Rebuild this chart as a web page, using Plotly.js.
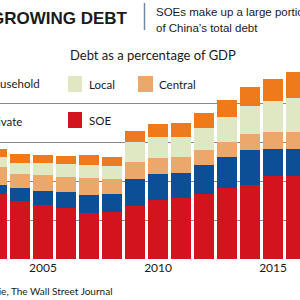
<!DOCTYPE html>
<html>
<head>
<meta charset="utf-8">
<script src="https://cdn.plot.ly/plotly-3.0.1.min.js"></script>
<style>
  html, body { margin: 0; padding: 0; background: #fff; }
  #chart { width: 300px; height: 300px; }
</style>
</head>
<body>
<div id="chart"></div>
<script>
// China debt by borrower, % of GDP
const years = [2003, 2004, 2005, 2006, 2007, 2008, 2009, 2010, 2011, 2012, 2013, 2014, 2015, 2016];
const soe       = [83, 74, 69, 66, 58.5, 60, 68, 75.5, 78, 83.5, 91, 95, 106, 106];
const privateCo = [12, 16.5, 18, 20.5, 24, 23.5, 34.5, 33.5, 32.5, 37, 39.5, 45, 35, 35];
const central   = [23, 18.5, 20.5, 19, 21, 19, 21.5, 20.5, 20, 19, 20, 20.5, 21.5, 21.5];
const local     = [12.5, 14, 15, 16, 17, 17, 25.5, 26.5, 25.5, 28, 32, 36, 40.5, 43.5];
const household= [10.5, 11.5, 11, 10.5, 13, 11.5, 15, 17, 18, 20, 21.5, 24, 28, 34];

const tickYears = [2005, 2010, 2015];
const yTicks = [0, 50, 100, 150, 200, 250];

const colors = {
  soe: '#d3141e',
  privateCo: '#0d4f96',
  central: '#eba86a',
  local: '#dfe8c2',
  household: '#ee7a1b'
};

const series = [
  { name: 'SOE', y: soe, color: colors.soe },
  { name: 'Private', y: privateCo, color: colors.privateCo },
  { name: 'Central', y: central, color: colors.central },
  { name: 'Local', y: local, color: colors.local },
  { name: 'Household', y: household, color: colors.household }
];

const traces = series.map(s => ({
  type: 'bar',
  name: s.name,
  x: years,
  y: s.y,
  marker: { color: s.color, line: { width: 0 } },
  hoverinfo: 'skip'
}));

// page geometry helpers (plot spans the full width, top 64px to 259px)
const W = 300, TOP = 64, BOT = 259;
const px = v => v / W;
const py = v => (BOT - v) / (BOT - TOP);

const textFont = 'Lato, "Open Sans", sans-serif';
const headFont = '"Liberation Sans", Arial, sans-serif';
const ink = '#1a1a1a';
const note = (text, x, y, xanchor, font) => ({
  text, x: px(x), y: py(y), xref: 'paper', yref: 'paper',
  xanchor, yanchor: 'middle', showarrow: false, font
});

const annotations = [
  note('<b>GROWING DEBT</b>', 130, 18.5, 'right', { family: headFont, size: 17, color: ink }),
  note('SOEs make up a large portion', 154, 12, 'left', { family: headFont, size: 11.5, color: ink }),
  note('of China\u2019s total debt', 154, 28, 'left', { family: headFont, size: 11.5, color: ink }),
  note('Debt as a percentage of GDP', 153, 55.5, 'center', { family: textFont, size: 13, color: ink }),
  note('Household', 42, 83, 'right', { family: textFont, size: 11.5, color: ink }),
  note('Local', 87, 84, 'left', { family: textFont, size: 11.5, color: ink }),
  note('Central', 157, 84, 'left', { family: textFont, size: 11.5, color: ink }),
  note('Private', 24, 121, 'right', { family: textFont, size: 11.5, color: ink }),
  note('SOE', 87, 120, 'left', { family: textFont, size: 11.5, color: ink }),
  note('Source: Macquarie, The Wall Street Journal', 115, 291, 'right',
       { family: textFont, size: 10, color: ink })
];

const rect = (x0, y0, x1, y1, fill) => ({
  type: 'rect', xref: 'paper', yref: 'paper',
  x0: px(x0), x1: px(x1), y0: py(y1), y1: py(y0),
  fillcolor: fill, line: { width: 0 }, layer: 'above'
});

const shapes = [
  { type: 'line', xref: 'paper', yref: 'paper',
    x0: px(144.5), x1: px(144.5), y0: py(30), y1: py(3),
    line: { color: '#6f8aa5', width: 1.5 } },
  rect(68, 76, 82, 92, colors.local),
  rect(138, 76, 153, 92, colors.central),
  rect(68, 112, 82, 128, colors.soe)
];

const layout = {
  width: 300, height: 300,
  margin: { l: 0, r: 0, t: TOP, b: 300 - BOT, pad: 0 },
  paper_bgcolor: '#ffffff', plot_bgcolor: '#ffffff',
  barmode: 'stack',
  bargap: 0.15,
  showlegend: false,
  xaxis: {
    range: [2003.13, 2016.17],
    tickvals: tickYears,
    ticktext: tickYears.map(String),
    ticks: '', showgrid: false, zeroline: false, showline: false,
    tickfont: { family: textFont, size: 12, color: ink },
    fixedrange: true
  },
  yaxis: {
    range: [0, 250],
    tickvals: yTicks,
    showticklabels: false,
    ticks: '',
    gridcolor: '#8a8a8a', gridwidth: 1,
    zeroline: false, showline: false,
    fixedrange: true
  },
  annotations, shapes
};

Plotly.newPlot('chart', traces, layout, { staticPlot: true, displayModeBar: false });
</script>
</body>
</html>
